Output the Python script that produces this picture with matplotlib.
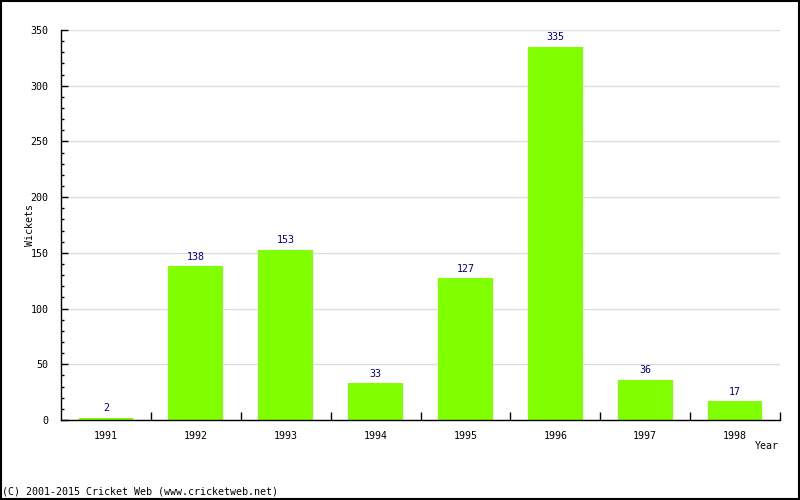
import numpy as np
import matplotlib.pyplot as plt
from matplotlib.ticker import MultipleLocator, FixedLocator

years = ['1991', '1992', '1993', '1994', '1995', '1996', '1997', '1998']
wickets = [2, 138, 153, 33, 127, 335, 36, 17]

plt.rcParams['font.family'] = 'DejaVu Sans Mono'
fs = 7.2

fig = plt.figure(figsize=(8, 5), dpi=100)
ax = fig.add_axes([61 / 800, 80 / 500, 719 / 800, 390 / 500])

x = np.arange(len(years))
ax.bar(x, wickets, width=0.61, color='#7fff00', zorder=2)
for xi, v in zip(x, wickets):
    ax.text(xi, v + 4, str(v), ha='center', va='bottom', color='#000080', fontsize=fs)

ax.set_xlim(-0.5, len(years) - 0.5)
ax.set_ylim(0, 350)

# y axis: majors every 50, minors every 10, ticks inward
ax.yaxis.set_major_locator(MultipleLocator(50))
ax.yaxis.set_minor_locator(MultipleLocator(10))
ax.tick_params(axis='y', which='major', direction='in', length=5, width=1, labelsize=fs, pad=9)
ax.tick_params(axis='y', which='minor', direction='in', length=2.5, width=1)
ax.grid(axis='y', which='major', color='#dddddd', linewidth=1, zorder=0)

# x axis: category labels at centres, tick marks at boundaries
ax.set_xticks(x)
ax.set_xticklabels(years)
ax.tick_params(axis='x', which='major', length=0, labelsize=fs, pad=8)
ax.xaxis.set_minor_locator(FixedLocator(np.arange(0.5, len(years), 1.0)))
ax.tick_params(axis='x', which='minor', direction='in', length=6, width=1)

for s in ['top', 'right']:
    ax.spines[s].set_visible(False)
ax.spines['left'].set_linewidth(1)
ax.spines['bottom'].set_linewidth(1)

fig.text(30 / 800, 1 - 225 / 500, 'Wickets', rotation=90, ha='center', va='center', fontsize=fs)
fig.text(779 / 800, 1 - 446 / 500, 'Year', ha='right', va='center', fontsize=fs)
fig.text(2 / 800, 1 - 492 / 500, '(C) 2001-2015 Cricket Web (www.cricketweb.net)', ha='left', va='center', fontsize=fs)

# border round the picture
fig.patches.append(plt.Rectangle((0.0008, 0.0012), 0.9984, 0.9976, transform=fig.transFigure,
                                 fill=False, edgecolor='black', linewidth=1.5))

fig.savefig('out.png', dpi=100)
